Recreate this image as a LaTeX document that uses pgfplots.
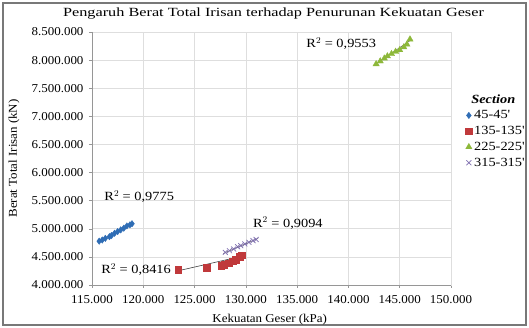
\documentclass[border=0pt]{standalone}
\usepackage{pgfplots}
\pgfplotsset{compat=1.18}
\usepackage{fontspec}
\setmainfont{Liberation Serif}[FakeStretch=1.08]
\newfontfamily\titlefont{Liberation Serif}[FakeStretch=1.3]
\newfontfamily\notefont{Liberation Serif}[FakeStretch=1.15]

\definecolor{sBlue}{RGB}{47,109,181}
\definecolor{sRed}{RGB}{192,57,59}
\definecolor{sGreen}{RGB}{141,184,58}
\definecolor{sPurple}{RGB}{127,111,176}
\definecolor{gridgray}{RGB}{222,222,222}
\definecolor{axisgray}{RGB}{150,150,150}

\begin{document}
\begin{tikzpicture}
\useasboundingbox (-92pt,-43pt) rectangle (437pt,285pt);
\draw[axisgray!80!black, line width=1.2pt] (-89pt,-40pt) rectangle (434pt,282pt);
\begin{axis}[
  at={(0pt,0pt)}, anchor=origin,
  scale only axis, width=359pt, height=253pt,
  xmin=115000, xmax=150000, ymin=4000000, ymax=8500000,
  xtick={115000,120000,...,150000},
  ytick={4000000,4500000,...,8500000},
  scaled ticks=false,
  /pgf/number format/fixed,
  /pgf/number format/precision=0,
  /pgf/number format/1000 sep={.},
  /pgf/number format/assume math mode=true,
  font=\fontsize{12}{14}\selectfont,
  tick label style={font=\fontsize{12}{14}\selectfont},
  grid=major, major grid style={gridgray, line width=0.6pt},
  axis line style={gridgray},
  tick style={axisgray, line width=0.5pt},
  tick align=outside, major tick length=3pt,
  xtick pos=bottom, ytick pos=left,
  xticklabel style={yshift=-4pt},
  yticklabel style={xshift=-2pt},
  xlabel={Kekuatan Geser (kPa)},
  ylabel={Berat Total Irisan (kN)},
  xlabel style={at={(rel axis cs:0.495,-0.137)}, anchor=center},
  ylabel style={at={(rel axis cs:-0.217,0.5)}, anchor=center},
  clip=false,
  legend style={at={(rel axis cs:1.04,0.762)}, anchor=north west, draw=none, fill=none,
    font=\notefont\fontsize{12.5}{14}\selectfont, row sep=2pt, inner sep=0pt},
  legend cell align=left,
  legend image code/.code={\draw[mark repeat=2,mark phase=2] plot coordinates {(0cm,0cm) (0.1cm,0cm) (0.2cm,0cm)};},
]
% axis lines on the left and bottom
\draw[axisgray, line width=0.6pt] (rel axis cs:0,1) -- (rel axis cs:0,0) -- (rel axis cs:1,0);

\addlegendimage{empty legend}
\addlegendentry{\hspace{-0.1cm}\textbf{\textit{Section}}}

% 45-45'
\addplot[only marks, mark=diamond*, mark size=3.2pt, color=sBlue] coordinates {
(115700,4780000) (116000,4800000) (116300,4830000) (116700,4860000)
(116900,4880000) (117200,4920000) (117500,4950000) (117800,4980000)
(118100,5010000) (118400,5050000) (118700,5070000) (118900,5090000)};
\addlegendentry{45-45'}
% 135-135'
\addplot[only marks, mark=square*, mark size=3.3pt, color=sRed] coordinates {
(123400,4270000) (126200,4310000) (127600,4340000) (127900,4360000)
(128300,4390000) (128700,4420000) (129000,4450000) (129400,4500000)
(129600,4530000)};
\addlegendentry{135-135'}
% 225-225'
\addplot[only marks, mark=triangle*, mark size=3.6pt, color=sGreen] coordinates {
(142700,7930000) (143100,7980000) (143500,8030000) (143800,8070000)
(144200,8110000) (144600,8150000) (145000,8180000) (145400,8230000)
(145700,8280000) (146000,8370000)};
\addlegendentry{225-225'}
% 315-315'
\addplot[only marks, mark=x, mark size=3.5pt, color=sPurple, mark options={line width=0.7pt}] coordinates {
(128000,4580000) (128400,4610000) (128800,4640000) (129200,4680000)
(129500,4700000) (129900,4730000) (130300,4760000) (130700,4790000)
(131000,4810000)};
\addlegendentry{315-315'}

% linear trend lines
\addplot[black!75, line width=0.6pt, forget plot] coordinates {(115600,4770000) (119000,5100000)};
\addplot[black!75, line width=0.6pt, forget plot] coordinates {(123100,4240000) (129800,4520000)};
\addplot[black!60, line width=0.6pt, forget plot] coordinates {(142600,7920000) (146100,8360000)};
\addplot[black!60, line width=0.6pt, forget plot] coordinates {(127800,4560000) (131200,4830000)};

% coefficients of determination
\node[font=\notefont\fontsize{12.5}{14}\selectfont] at (axis cs:119600,5570000) {R$^2$ = 0,9775};
\node[font=\notefont\fontsize{12.5}{14}\selectfont] at (axis cs:119300,4270000) {R$^2$ = 0,8416};
\node[font=\notefont\fontsize{12.5}{14}\selectfont] at (axis cs:134100,5100000) {R$^2$ = 0,9094};
\node[font=\notefont\fontsize{12.5}{14}\selectfont] at (axis cs:139300,8290000) {R$^2$ = 0,9553};

% title
\node[font=\titlefont\fontsize{12.5}{14}\selectfont] at (rel axis cs:0.5,1) [xshift=2pt,yshift=18pt] {Pengaruh Berat Total Irisan terhadap Penurunan Kekuatan Geser};
\end{axis}
\end{tikzpicture}
\end{document}
